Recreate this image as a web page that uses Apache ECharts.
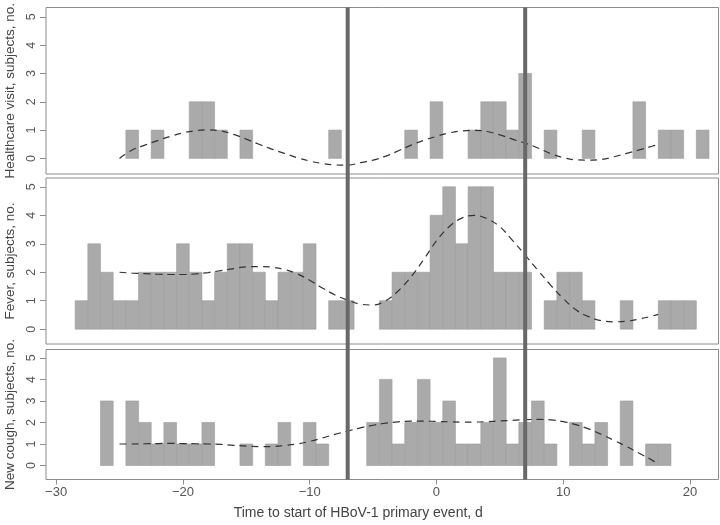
<!DOCTYPE html>
<html>
<head>
<meta charset="utf-8">
<script src="https://cdn.jsdelivr.net/npm/echarts@6/dist/echarts.min.js"></script>
<style>
html,body{margin:0;padding:0;background:#fff;}
#chart{width:720px;height:525px;}
</style>
</head>
<body>
<div id="chart"></div>
<script>
// ---------- DATA ----------
const xTicks = [-30, -20, -10, 0, 10, 20];
const yTicks = [0, 1, 2, 3, 4, 5];
const refLines = [-7, 7];

const panelNames = ['Healthcare visit, subjects, no.', 'Fever, subjects, no.', 'New cough, subjects, no.'];
const xTitle = 'Time to start of HBoV-1 primary event, d';

// Healthcare visit
const hvX = [-24,-22,-19,-18,-17,-15,-8,-2,0,3,4,5,6,7,9,12,16,18,19,21];
const hvY = [1,1,2,2,1,1,1,1,2,1,2,2,1,3,1,1,2,1,1,1];
const hvCurveX = [-25,-24,-23,-22,-21,-20,-19,-18,-17,-16,-15,-14,-13,-12,-11,-10,-9,-8,-7,-6,-5,-4,-3,-2,-1,0,1,2,3,4,5,6,7,8,9,10,11,12,13,14,15,16,17,17.5];
const hvCurveY = [0.0,0.3,0.47,0.63,0.78,0.9,0.98,1.01,0.97,0.85,0.68,0.5,0.33,0.18,0.03,-0.09,-0.18,-0.23,-0.24,-0.15,-0.06,0.08,0.27,0.47,0.64,0.78,0.9,0.97,0.99,0.95,0.83,0.68,0.54,0.37,0.17,0.03,-0.05,-0.06,-0.04,0.06,0.18,0.3,0.43,0.5];

// Fever
const feverX = [-28,-27,-26,-25,-24,-23,-22,-21,-20,-19,-18,-17,-16,-15,-14,-13,-12,-11,-10,-8,-7,-4,-3,-2,-1,0,1,2,3,4,5,6,7,9,10,11,12,15,18,19,20];
const feverY = [1,3,2,1,1,2,2,2,3,2,1,2,3,3,2,1,2,2,3,1,1,1,2,2,2,4,5,3,5,5,2,2,2,1,2,2,1,1,1,1,1];
const feverCurveX = [-25,-24,-23,-22,-21,-20,-19,-18,-17,-16,-15,-14,-13,-12,-11,-10,-9,-8,-7,-6,-5,-4,-3,-2,-1,0,1,2,3,4,5,6,7,8,9,10,11,12,13,14,15,16,17,17.5];
const feverCurveY = [2.0,1.97,1.95,1.93,1.92,1.92,1.94,1.99,2.06,2.13,2.19,2.2,2.18,2.1,1.95,1.72,1.45,1.2,1.02,0.88,0.85,1.0,1.35,1.84,2.45,3.1,3.6,3.9,4.0,3.88,3.6,3.12,2.6,2.07,1.55,1.08,0.68,0.44,0.3,0.26,0.28,0.36,0.46,0.52];

// New cough
const coughX = [-26,-24,-23,-22,-21,-20,-19,-18,-15,-13,-12,-10,-9,-5,-4,-3,-2,-1,0,1,2,3,4,5,6,7,8,9,11,12,13,15,17,18];
const coughY = [3,3,2,1,2,1,1,2,1,1,2,2,1,2,4,1,2,4,2,3,1,1,2,5,1,2,3,1,2,1,2,3,1,1];
const coughCurveX = [-25,-24,-23,-22,-21,-20,-19,-18,-17,-16,-15,-14,-13,-12,-11,-10,-9,-8,-7,-6,-5,-4,-3,-2,-1,0,1,2,3,4,5,6,7,8,9,10,11,12,13,14,15,16,17,17.5];
const coughCurveY = [1.0,1.0,1.01,1.02,1.03,1.02,1.01,1.0,0.98,0.94,0.9,0.88,0.88,0.93,1.0,1.12,1.28,1.45,1.6,1.75,1.87,1.97,2.03,2.06,2.06,2.05,2.03,2.02,2.02,2.04,2.07,2.1,2.13,2.14,2.12,2.04,1.9,1.7,1.45,1.17,0.88,0.57,0.25,0.05];

// ---------- CHART ----------
const FONT = '"Liberation Sans", Arial, Helvetica, sans-serif';
const X_MIN = -30.8, X_MAX = 22.25;
const panels = [
  {bx: hvX, by: hvY, cx: hvCurveX, cy: hvCurveY, top: 7.5, height: 166.5, ymin: -0.55, ymax: 5.33},
  {bx: feverX, by: feverY, cx: feverCurveX, cy: feverCurveY, top: 178, height: 166, ymin: -0.52, ymax: 5.31},
  {bx: coughX, by: coughY, cx: coughCurveX, cy: coughCurveY, top: 349.5, height: 130, ymin: -0.65, ymax: 5.39}
];

const minusFmt = v => (v < 0 ? '\u2212' + Math.abs(v) : String(v));

const grids = [], xAxes = [], yAxes = [], series = [];
panels.forEach((p, i) => {
  grids.push({left: 46, right: 1.5, top: p.top, height: p.height, show: true, borderColor: '#8c8c8c', borderWidth: 1, backgroundColor: '#fff', containLabel: false, outerBoundsMode: 'none'});
  const isLast = i === panels.length - 1;
  xAxes.push({
    gridIndex: i, type: 'value', min: X_MIN, max: X_MAX, show: isLast, position: 'bottom',
    axisLine: {show: false, onZero: false},
    axisTick: {show: true, length: 5, customValues: xTicks, lineStyle: {color: '#8c8c8c'}},
    axisLabel: {show: true, customValues: xTicks, formatter: minusFmt, color: '#555', fontSize: 13, fontFamily: FONT, margin: 6},
    splitLine: {show: false},
    name: isLast ? xTitle : '', nameLocation: 'middle', nameGap: 27,
    nameTextStyle: {color: '#444', fontSize: 14, fontFamily: FONT, padding: [0, 48, 0, 0]}
  });
  yAxes.push({
    gridIndex: i, type: 'value', min: p.ymin, max: p.ymax, position: 'left',
    axisLine: {show: false, onZero: false},
    axisTick: {show: true, length: 6, customValues: yTicks, lineStyle: {color: '#8c8c8c'}},
    axisLabel: {show: true, customValues: yTicks, rotate: 90, color: '#555', fontSize: 12.5, fontFamily: FONT, margin: 8},
    splitLine: {show: false},
    name: panelNames[i], nameLocation: 'middle', nameGap: 29,
    nameTextStyle: {color: '#444', fontSize: 13.5, fontFamily: FONT}
  });
  series.push({
    type: 'custom', xAxisIndex: i, yAxisIndex: i, z: 2,
    data: p.bx.map((x, k) => [x, p.by[k]]),
    encode: {x: 0, y: 1},
    renderItem: function (params, api) {
      const x = api.value(0), y = api.value(1);
      const a = api.coord([x - 0.5, 0]);
      const b = api.coord([x + 0.5, y]);
      return {type: 'rect', shape: {x: a[0], y: b[1], width: b[0] - a[0], height: a[1] - b[1]},
        style: {fill: '#aaaaaa', stroke: '#9c9c9c', lineWidth: 0.6}};
    }
  });
  series.push({
    type: 'line', xAxisIndex: i, yAxisIndex: i, z: 4,
    data: p.cx.map((x, k) => [x, p.cy[k]]),
    smooth: 0.4, symbol: 'none', silent: true,
    lineStyle: {color: '#333', width: 1.2, type: [7, 5]}
  });
});

// overlay grid for the reference vertical lines spanning all panels
grids.push({left: 46, right: 1.5, top: 7.5, bottom: 45.5, show: false, containLabel: false, outerBoundsMode: 'none'});
xAxes.push({gridIndex: 3, type: 'value', min: X_MIN, max: X_MAX, show: false});
yAxes.push({gridIndex: 3, type: 'value', min: 0, max: 1, show: false});
refLines.forEach(v => {
  series.push({type: 'line', xAxisIndex: 3, yAxisIndex: 3, z: 10, symbol: 'none', silent: true,
    data: [[v, 0], [v, 1]], lineStyle: {color: '#686868', width: 4}});
});

const chart = echarts.init(document.getElementById('chart'), null, {renderer: 'canvas'});
chart.setOption({
  animation: false,
  backgroundColor: '#fff',
  textStyle: {fontFamily: FONT},
  grid: grids, xAxis: xAxes, yAxis: yAxes, series: series
});
</script>
</body>
</html>
